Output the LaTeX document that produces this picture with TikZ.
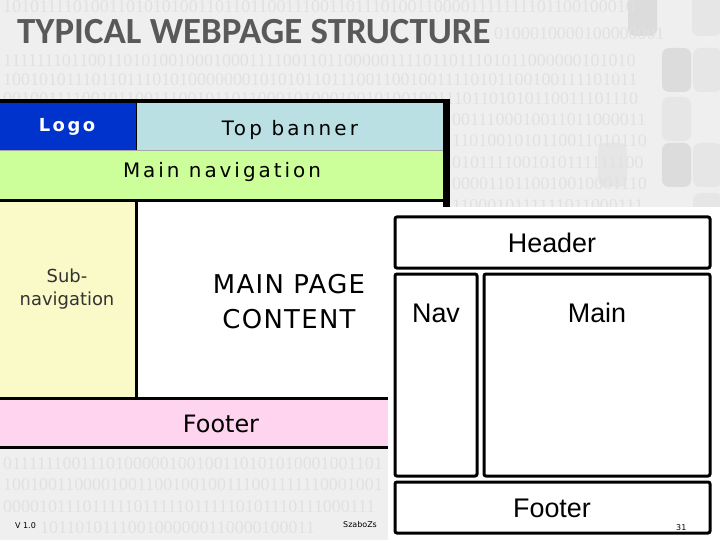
\documentclass[tikz,border=0pt]{standalone}
\usepackage{fontspec}
\setmainfont{Liberation Sans}
\newfontfamily\titlefont{Carlito}
\newfontfamily\boxfont{DejaVu Sans}
\newfontfamily\bitfont{Liberation Serif}
\definecolor{slide-bg}{HTML}{EFEFEF}
\definecolor{slide-bits}{HTML}{E1E1E1}
\definecolor{tile-light}{HTML}{E6E6E6}
\definecolor{tile-dark}{HTML}{DCDCDC}
\definecolor{title-gray}{HTML}{595959}
\definecolor{logo-blue}{HTML}{0033CC}
\definecolor{banner-cyan}{HTML}{BBE0E3}
\definecolor{nav-green}{HTML}{CCFF99}
\definecolor{subnav-yellow}{HTML}{FAFAC8}
\definecolor{footer-pink}{HTML}{FFD4EE}

\begin{document}
\begin{tikzpicture}[x=1bp, y=-1bp,
      every node/.style={inner sep=0pt, anchor=base},
      bits/.style={anchor=west, text=slide-bits,
        font=\bitfont\fontsize{18}{20}\selectfont},
      wirebox/.style={line width=3bp, rounded corners=2bp},
      wiretext/.style={font=\fontsize{27}{30}\selectfont},
      tiny/.style={font=\boxfont\fontsize{8}{9}\selectfont}]
    \useasboundingbox (0,0) rectangle (720,540);
    \fill[slide-bg] (0,0) rectangle (720,540);
    % background tiles
    \foreach \tx/\ty/\tc in {628/-8/tile-dark, 692/-8/tile-light,
        662/48/tile-dark, 693/48/tile-light, 662/97/tile-light,
        662/143/tile-dark, 693/143/tile-light, 598/143/tile-light,
        693/193/tile-light}
      \fill[\tc, rounded corners=7bp] (\tx,\ty) rectangle ++(29,44);
    % binary rows
    \node[bits] (bits0) at (3,7)
      {101011110100110101010011011011001110011011101001100001111111101100100010};
    \node[bits] (bits1) at (494,33.5) {0100010000100000001};
    \node[bits] (bits2) at (3,60.5)
      {111111101100110101001000100011110011011000001111011011101011000000101010};
    \node[bits] (bits3) at (3,79.5)
      {100101011101101110101000000010101011011100110010011110101100100111101011};
    \node[bits] (bits4) at (3,98.5)
      {001001111001011001110010110110001010001001010010011101101010110011101110};
    \foreach \row/\bits in {5/0011100010011011000011, 6/1101001010110011010110,
        7/0101111001010111111100, 8/0000110110010010001110,
        9/1100010111111011000111}
      \node[bits] (bits\row) at (452,{12+21.5*\row}) {\bits};
    \foreach \row/\bits in {21/0111111001110100000100100110101010001001101,
        22/1001001100001001100100100111001111110001001,
        23/0000101110111110111110111110101110111000111}
      \node[bits] (bits\row) at (3,{12+21.5*\row}) {\bits};
    \node[bits] (bits24) at (40,528) {1011010111001000000110000100011};

    \node[anchor=base west, text=title-gray,
      font=\titlefont\bfseries\fontsize{37}{40}\selectfont]
      (title) at (17,44) {TYPICAL WEBPAGE STRUCTURE};

    % colour layout
    \fill[black] (0,99) rectangle (450,449);
    \fill[logo-blue] (0,103) rectangle (135.5,150);
    \fill[banner-cyan] (137,103) rectangle (443,150);
    \fill[gray!70] (0,150) rectangle (443,151);
    \fill[nav-green] (0,151) rectangle (443,199);
    \fill[subnav-yellow] (0,202) rectangle (135,396.5);
    \fill[white] (137.5,202) rectangle (443,396.5);
    \fill[footer-pink] (0,399.5) rectangle (443,446);
    \node[text=white, font=\boxfont\bfseries\fontsize{18}{20}\selectfont\addfontfeature{LetterSpace=14}]
      (logo) at (67,132) {Logo};
    \node[font=\boxfont\fontsize{20}{24}\selectfont\addfontfeature{LetterSpace=16}]
      (banner) at (290,136) {Top banner};
    \node[font=\boxfont\fontsize{20}{24}\selectfont\addfontfeature{LetterSpace=15}]
      (mainnav) at (222,178) {Main navigation};
    \node[align=center, text=black!80, font=\boxfont\fontsize{18}{23}\selectfont]
      (subnav) at (67,305) {Sub-\\navigation};
    \node[align=center, font=\boxfont\fontsize{26}{35}\selectfont\addfontfeature{LetterSpace=5}]
      (content) at (289,328) {MAIN PAGE\\CONTENT};
    \node[font=\boxfont\fontsize{24}{28}\selectfont]
      (footer) at (221,432) {Footer};

    % wireframe layout
    \fill[white] (388,207) rectangle (720,540);
    \draw[wirebox] (395,217) rectangle (710,268);
    \draw[wirebox] (395,274) rectangle (477,476);
    \draw[wirebox] (484,274) rectangle (710,476);
    \draw[wirebox] (395,482) rectangle (710,533);
    \node[wiretext] (header) at (552,253) {Header};
    \node[wiretext] (nav) at (436,322) {Nav};
    \node[wiretext] (main) at (597,322) {Main};
    \node[wiretext] (wfooter) at (552,517) {Footer};

    \node[tiny, anchor=base west] (version) at (15,528) {V 1.0};
    \node[tiny, anchor=base west] (author) at (343,527) {SzaboZs};
    \node[tiny, anchor=base west] (page) at (676,530) {31};
  \end{tikzpicture}
\end{document}
